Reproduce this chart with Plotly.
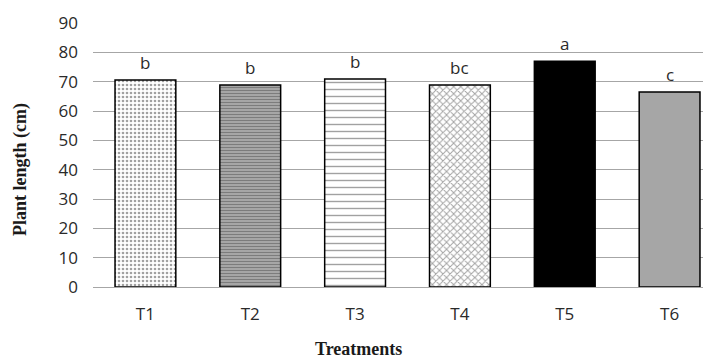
import plotly.graph_objects as go

categories = ["T1", "T2", "T3", "T4", "T5", "T6"]
values = [70.6, 68.9, 70.9, 68.9, 77.0, 66.5]
letters = ["b", "b", "b", "bc", "a", "c"]
y_ticks = [0, 10, 20, 30, 40, 50, 60, 70, 80, 90]

fill_colors = ["white", "#b4b4b4", "white", "white", "black", "#a6a6a6"]
pattern_fg = ["#222", "#222", "#333", "#222", "black", "black"]
shapes = [".", "-", "-", "x", "", ""]
sizes = [4, 3, 7, 5, 8, 8]
solid = [0.35, 0.5, 0.2, 0.35, 0.3, 0.3]

fig = go.Figure()
fig.add_trace(go.Bar(
    x=categories, y=values,
    width=0.58,
    marker=dict(
        color=fill_colors,
        line=dict(color="black", width=1.5),
        pattern=dict(shape=shapes, size=sizes, solidity=solid,
                     fgcolor=pattern_fg, bgcolor=fill_colors, fillmode="overlay"),
    ),
))

tick_font = dict(family="Open Sans", size=17, color="#2a2a2a")
W, H = 703, 351
L, R, T, B = 85, 0, 15, 72
pw = W - L - R
ph = H - T - B

annotations = [
    dict(x=c, y=v, xref="x", yref="y", text=t, showarrow=False,
         yanchor="bottom", yshift=4,
         font=dict(family="Open Sans", size=17, color="#2a2a2a"))
    for c, v, t in zip(categories, values, letters)
]
annotations.append(dict(text="<b>Plant length (cm)</b>", xref="paper", yref="paper",
                        x=(12 - L) / pw, y=(279 - 162) / ph, xanchor="center", yanchor="middle",
                        showarrow=False, textangle=-90,
                        font=dict(family="Liberation Serif", size=18, color="#1a1a1a")))
annotations.append(dict(text="<b>Treatments</b>", xref="paper", yref="paper",
                        x=(350 - L) / pw, y=(279 - 341) / ph, xanchor="center", yanchor="middle",
                        showarrow=False,
                        font=dict(family="Liberation Serif", size=18, color="#1a1a1a")))

fig.update_layout(
    width=W, height=H,
    margin=dict(l=L, r=R, t=T, b=B, autoexpand=False),
    plot_bgcolor="white", paper_bgcolor="white",
    showlegend=False,
    xaxis=dict(range=[-0.5, 5.395], showgrid=False, showline=False,
               tickfont=tick_font, ticks="", ticklabelstandoff=15),
    yaxis=dict(range=[0, 90], tickvals=y_ticks, showgrid=True,
               gridcolor="#a6a6a6", gridwidth=1, zeroline=True,
               zerolinecolor="#a6a6a6", zerolinewidth=1, showline=False,
               tickfont=tick_font, ticks="", ticklabelstandoff=14),
    annotations=annotations,
)

fig.write_html("out.html")
